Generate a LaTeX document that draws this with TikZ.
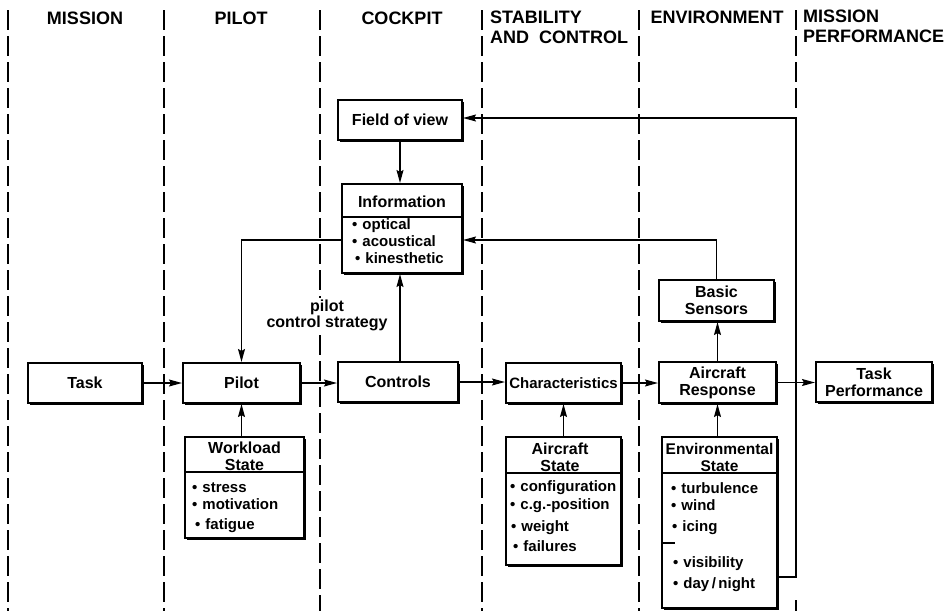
\documentclass[tikz,border=0pt]{standalone}
\usepackage{fontspec}
\setmainfont{Liberation Sans}
\usetikzlibrary{arrows.meta,shadows}
\newcommand\itembul[1]{\textbullet\hspace{5pt}#1}
\begin{document}
\begin{tikzpicture}[x=1pt,y=-1pt,
  col/.style={line width=2.8pt, dash pattern=on 20pt off 6pt},
  box/.style={draw, line width=2.1pt, fill=white, inner sep=0pt,
    drop shadow={shadow xshift=1.8pt, shadow yshift=-1.8pt, fill=black, opacity=1}},
  hdr/.style={font=\fontsize{18}{20}\selectfont\bfseries, inner sep=0pt},
  ttl/.style={font=\fontsize{16}{17}\selectfont\bfseries, inner sep=0pt, align=center},
  itm/.style={font=\fontsize{15}{17}\selectfont\bfseries, inner sep=0pt, anchor=west, text height=10pt, text depth=3pt},
  divl/.style={line width=1.3pt},
  conn/.style={line width=1.3pt},
  arr/.style={conn, -{Stealth[length=13pt,width=7pt,inset=2pt]}},
]
\useasboundingbox[fill=white] (0,0) rectangle (948,611);

% column separators
\draw[col] (8,10) -- (8,611);
\draw[col] (164,10) -- (164,611);
\draw[col] (320,10) -- (320,298);
\draw[col] (320,335) -- (320,611);
\draw[col] (482,10) -- (482,611);
\draw[col] (639,10) -- (639,611);
\draw[col] (796,10) -- (796,108);
\draw[col] (796,600) -- (796,611);

% headers
\node[hdr] (hmission) at (85,18) {MISSION};
\node[hdr] (hpilot) at (241,18) {PILOT};
\node[hdr] (hcockpit) at (402,18) {COCKPIT};
\node[hdr, anchor=west, align=left] (hstab) at (490,27) {STABILITY\\AND\ \ CONTROL};
\node[hdr] (henv) at (717,17) {ENVIRONMENT};
\node[hdr, anchor=west, align=left] (hperf) at (803,26) {MISSION\\PERFORMANCE};

% main row
\node[box, ttl, minimum width=114pt, minimum height=40pt] (task) at (85,383) {Task};
\node[box, ttl, minimum width=117pt, minimum height=40pt] (pilot) at (241.5,383) {Pilot};
\node[box, ttl, minimum width=120pt, minimum height=40pt] (controls) at (398,382) {Controls};
\node[box, ttl, font=\fontsize{15}{17}\selectfont\bfseries, minimum width=115pt, minimum height=40pt] (charac) at (563.5,383) {Characteristics};
\node[box, ttl, minimum width=117pt, minimum height=41pt] (acresp) at (717.5,382.5) {Aircraft\\Response};
\node[box, ttl, minimum width=116pt, minimum height=40pt] (taskperf) at (874,382) {Task\\Performance};

% cockpit boxes
\node[box, ttl, minimum width=124pt, minimum height=40pt] (fov) at (400,120) {Field of view};
\node[box, minimum width=120pt, minimum height=89pt] (info) at (402,228.5) {};
\node[ttl] (infot) at (402,202) {Information};
\draw[divl] (342,217) -- (462,217);
\node[itm] (i1) at (352,226) {\itembul{optical}};
\node[itm] (i2) at (352,243) {\itembul{acoustical}};
\node[itm] (i3) at (355,260) {\itembul{kinesthetic}};

\node[box, ttl, minimum width=115pt, minimum height=41pt] (basic) at (716.5,300.5) {Basic\\Sensors};

% state boxes
\node[box, minimum width=119pt, minimum height=101pt] (workload) at (244.5,487.5) {};
\node[ttl] (workt) at (244.5,456) {Workload\\State};
\draw[divl] (185,472) -- (304,472);
\node[itm] (w1) at (192,489) {\itembul{stress}};
\node[itm] (w2) at (192,506) {\itembul{motivation}};
\node[itm] (w3) at (195,526) {\itembul{fatigue}};

\node[box, minimum width=115pt, minimum height=128pt] (acstate) at (563.5,501) {};
\node[ttl] (acst) at (560,457) {Aircraft\\State};
\draw[divl] (506,473) -- (621,473);
\node[itm] (a1) at (510,488) {\itembul{configuration}};
\node[itm] (a2) at (510,506) {\itembul{c.g.-position}};
\node[itm] (a3) at (511,528) {\itembul{weight}};
\node[itm] (a4) at (513,548) {\itembul{failures}};

\node[box, minimum width=115pt, minimum height=171pt] (envstate) at (719.5,522.5) {};
\node[ttl, font=\fontsize{15.5}{17}\selectfont\bfseries] (envt) at (719.5,457) {Environmental\\State};
\draw[divl] (662,473) -- (777,473);
\node[itm] (e1) at (671,490) {\itembul{turbulence}};
\node[itm] (e2) at (671,507) {\itembul{wind}};
\node[itm] (e3) at (672,528) {\itembul{icing}};
\draw[divl] (662,543) -- (675,543);
\node[itm] (e4) at (673,564) {\itembul{visibility}};
\node[itm] (e5) at (673,585) {\itembul{day\,/\,night}};

% label
\node[font=\fontsize{16}{16}\selectfont\bfseries, align=center, inner sep=0pt] (pcs) at (327,315) {pilot\\control strategy};

% connectors
\draw[arr] (task.east) -- (pilot.west);
\draw[arr] (pilot.east) -- (pilot.east -| controls.west);
\draw[arr] (controls.east) -- (controls.east -| charac.west);
\draw[arr] (charac.east) -- (charac.east -| acresp.west);
\draw[arr] (acresp.east) -- (acresp.east -| taskperf.west);

\draw[arr] (fov.south) -- (fov.south |- info.north);
\draw[arr] ([xshift=2pt]controls.north) -- ([xshift=2pt]controls.north |- info.south);
\draw[arr] ([yshift=-11.5pt]info.west) -| (pilot.north);
\draw[arr] (basic.north) |- ([yshift=-11.5pt]info.east);
\draw[arr] (acresp.north) -- (acresp.north |- basic.south);

\draw[arr] (pilot.south |- workload.north) -- (pilot.south);
\draw[arr] (acstate.north) -- (charac.south);
\draw[arr] (acresp.south |- envstate.north) -- (acresp.south);

\coordinate (cR) at (796,118);
\draw[arr] ([yshift=-54.5pt]envstate.east) -| (cR) -- ([yshift=2pt]fov.east);
\end{tikzpicture}
\end{document}
